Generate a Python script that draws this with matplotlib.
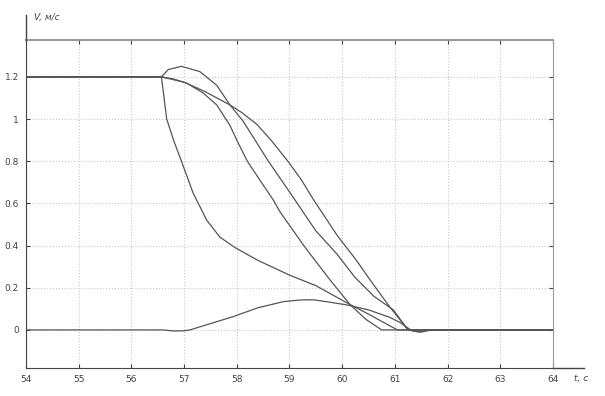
import matplotlib
matplotlib.use('Agg')
import matplotlib.pyplot as plt
from matplotlib.lines import Line2D

# time, s / speed, m/s
tA = [54, 56.57, 56.62, 56.67, 56.8, 56.92, 57.17, 57.43, 57.68, 57.97, 58.4, 59.0, 59.5, 60.15, 60.5, 60.9, 61.05, 64]
vA = [1.2, 1.2, 1.1, 1.0, 0.9, 0.82, 0.65, 0.52, 0.44, 0.39, 0.33, 0.26, 0.21, 0.12, 0.075, 0.02, 0.0, 0.0]

tB = [54, 56.57, 56.7, 56.95, 57.3, 57.62, 57.87, 58.12, 58.6, 59.04, 59.5, 59.9, 60.24, 60.6, 60.97, 61.25, 61.5, 61.7, 64]
vB = [1.2, 1.2, 1.235, 1.25, 1.225, 1.16, 1.067, 0.99, 0.80, 0.64, 0.47, 0.36, 0.25, 0.16, 0.095, 0.0, -0.01, 0.0, 0.0]

tC = [54, 56.57, 57.0, 57.4, 57.87, 58.1, 58.38, 58.65, 58.97, 59.23, 59.45, 59.9, 60.27, 60.53, 60.9, 61.25, 61.45, 61.65, 64]
vC = [1.2, 1.2, 1.175, 1.13, 1.067, 1.03, 0.975, 0.9, 0.8, 0.71, 0.62, 0.45, 0.33, 0.237, 0.11, 0.0, -0.01, 0.0, 0.0]

tD = [54, 56.57, 56.8, 57.05, 57.36, 57.62, 57.87, 58.0, 58.2, 58.44, 58.69, 58.82, 59.3, 59.77, 60.15, 60.45, 60.75, 64]
vD = [1.2, 1.2, 1.19, 1.17, 1.124, 1.067, 0.97, 0.9, 0.8, 0.71, 0.617, 0.56, 0.39, 0.237, 0.12, 0.05, 0.0, 0.0]

tE = [54, 56.6, 56.8, 57.0, 57.11, 57.5, 57.93, 58.4, 58.88, 59.2, 59.45, 59.7, 60.08, 60.5, 60.9, 61.1, 61.3, 64]
vE = [0, 0, -0.005, -0.004, 0, 0.03, 0.063, 0.105, 0.134, 0.142, 0.143, 0.134, 0.119, 0.095, 0.06, 0.035, 0.0, 0.0]

xticks = list(range(54, 65))
yticks = [0, 0.2, 0.4, 0.6, 0.8, 1.0, 1.2]
ylabels = ['0', '0.2', '0.4', '0.6', '0.8', '1', '1.2']

fig = plt.figure(figsize=(6.05, 3.96), dpi=100)
ax = fig.add_axes([0.043, 0.071, 0.871, 0.828])

lc = '#555555'
for t, v in [(tA, vA), (tB, vB), (tC, vC), (tD, vD), (tE, vE)]:
    ax.plot(t, v, color=lc, lw=0.9)

ax.set_xlim(54, 64)
ax.set_ylim(-0.18, 1.375)
ax.set_xticks(xticks)
ax.set_yticks(yticks)
ax.set_yticklabels(ylabels)
ax.grid(True, color='#c8c8c8', linestyle=':', lw=0.8)
ax.tick_params(direction='in', length=3, labelsize=6.5, colors='#444444',
               top=True, right=True, pad=5)

for side in ['top', 'right']:
    ax.spines[side].set_color('#9a9a9a')
ax.spines['top'].set_linewidth(1.5)
ax.spines['left'].set_color('#444444')
ax.spines['bottom'].set_color('#444444')

# axis arrows extending past the box, MATLAB-sketch style
fig.add_artist(Line2D([0.043, 0.043], [0.899, 0.962], color='#444444', lw=1.0))
fig.add_artist(Line2D([0.914, 0.965], [0.071, 0.071], color='#444444', lw=1.0))
fig.text(0.056, 0.955, 'V, м/с', fontsize=6.5, style='italic', color='#444444', va='center')
fig.text(0.948, 0.045, 't, с', fontsize=6.5, style='italic', color='#444444', va='center')

plt.savefig('out.png', dpi=100)
